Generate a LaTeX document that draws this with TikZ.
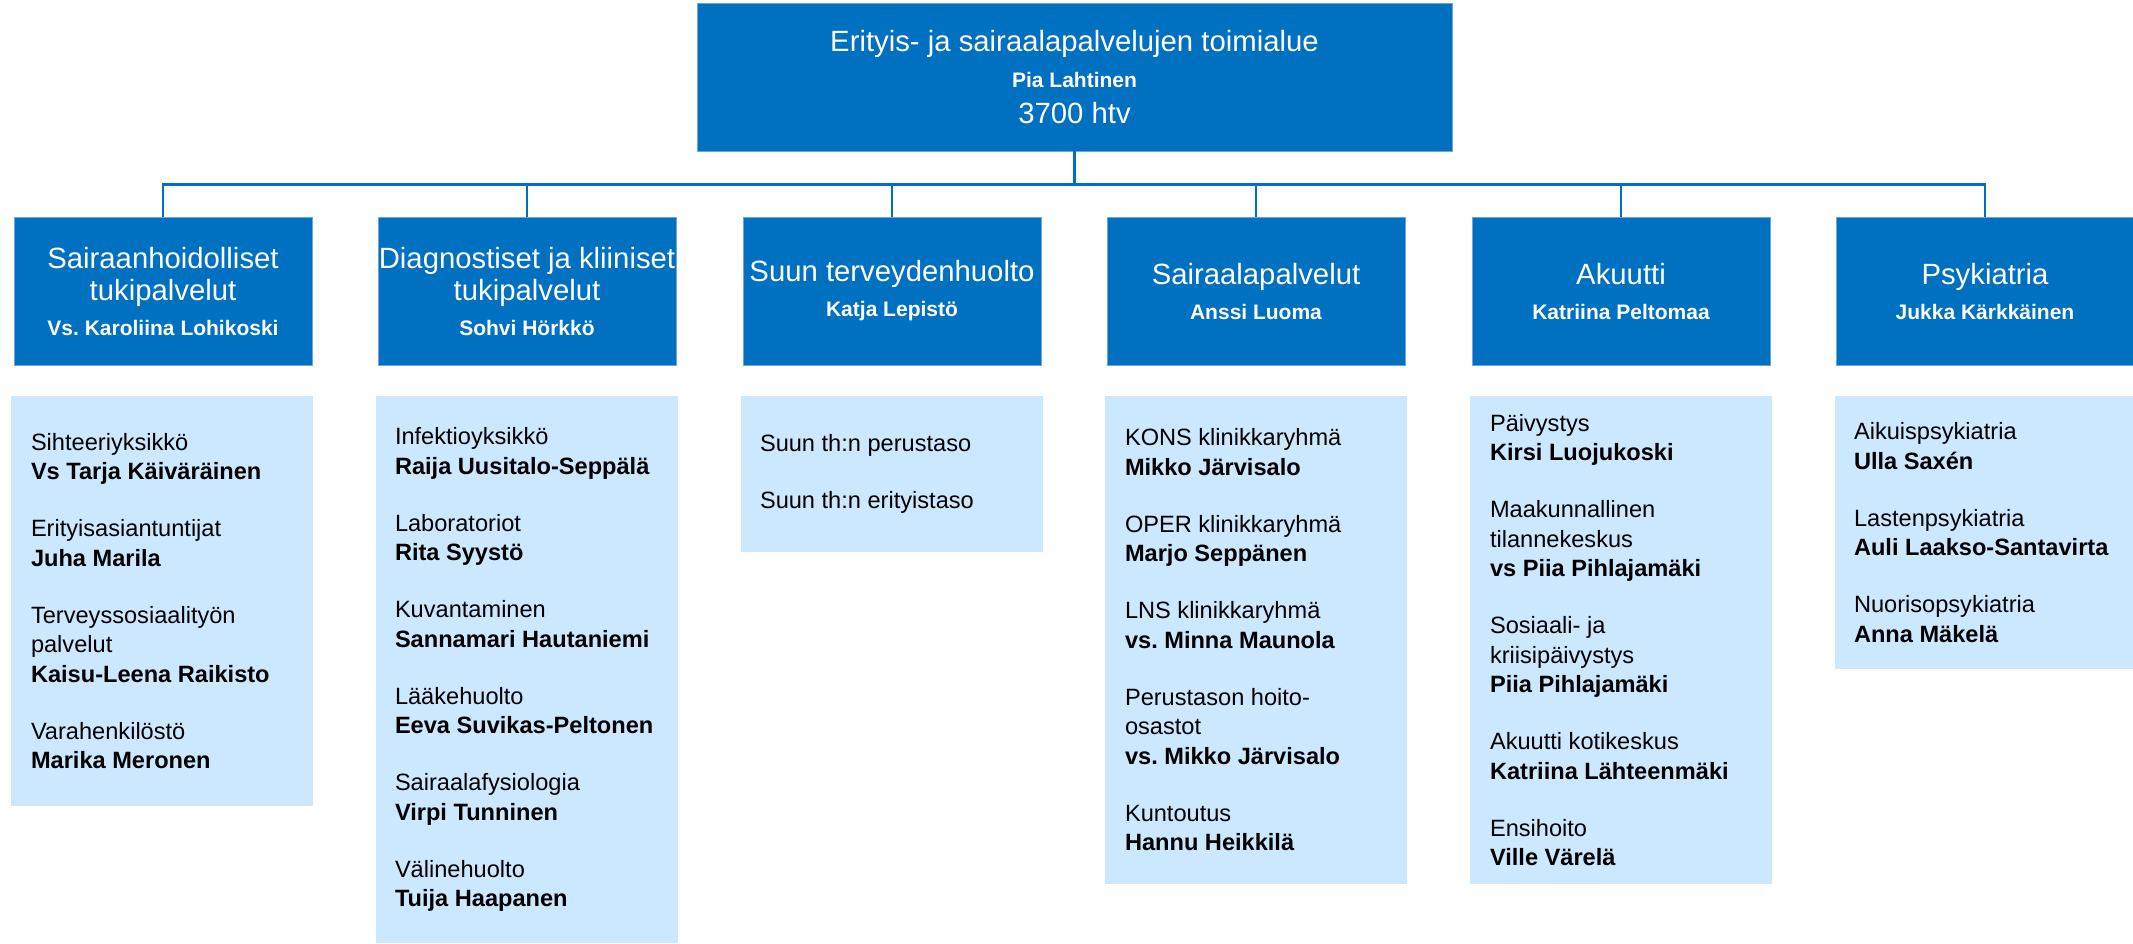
\documentclass[tikz,border=0pt]{standalone}
\usepackage{fontspec}
\setmainfont{Liberation Sans}
\frenchspacing
\definecolor{clb}{RGB}{0,112,192}
\definecolor{cll}{RGB}{204,232,255}
\definecolor{clr}{RGB}{110,165,220}
\tikzset{
    hd/.style={fill=clb, draw=clr, line width=.8pt, text=white, align=center, inner sep=0pt},
    srv/.style={hd, minimum width=298, minimum height=148, font=\fontsize{29.3}{32}\selectfont},
    unit/.style={fill=cll, inner sep=0pt, minimum width=302},
    lst/.style={align=left, inner sep=0pt, anchor=west, font=\fontsize{23.6}{29.5}\selectfont},
    lnk/.style={draw=clb, line width=2.5pt}
}
\newcommand*{\nm}[1]{{\bfseries\fontsize{21}{21}\selectfont #1}}
\newcommand*{\gp}{\\[27.5pt]}

\begin{document}
\begin{tikzpicture}[x=1pt, y=-1pt]
    \useasboundingbox(0, 0) rectangle (2133, 943);
    \node[hd, minimum width=755, minimum height=148, font=\fontsize{29.3}{36}\selectfont](top) at(1074.5, 77){Erityis- ja sairaalapalvelujen toimialue\\\nm{Pia Lahtinen}\\3700 htv};
    \node[srv](s1) at(163, 291){Sairaanhoidolliset\\tukipalvelut\\[3pt]\nm{Vs. Karoliina Lohikoski}};
    \node[srv](s2) at(527, 291){Diagnostiset ja kliiniset\\tukipalvelut\\[3pt]\nm{Sohvi Hörkkö}};
    \node[srv](s3) at(892, 291){Suun terveydenhuolto\\[3pt]\nm{Katja Lepistö}};
    \node[srv](s4) at(1256, 291){Sairaalapalvelut\\[3pt]\nm{Anssi Luoma}};
    \node[srv](s5) at(1621, 291){Akuutti\\[3pt]\nm{Katriina Peltomaa}};
    \node[srv](s6) at(1985, 291){Psykiatria\\[3pt]\nm{Jukka Kärkkäinen}};
    \coordinate(bus) at([yshift=-33pt]top.south);
    \draw[lnk](top)--(bus);
    \foreach \s in {s1, s2, s3, s4, s5, s6}
        \draw[lnk](bus)-|(\s);
    \node[unit, minimum height=410](u1) at(162, 601){};
    \node[unit, minimum height=547](u2) at(527, 669.5){};
    \node[unit, minimum height=156](u3) at(892, 474){};
    \node[unit, minimum height=488](u4) at(1256, 640){};
    \node[unit, minimum height=488](u5) at(1621, 640){};
    \node[unit, minimum height=273](u6) at(1986, 532.5){};
    \node[lst](t1) at([xshift=20pt]u1.west){Sihteeriyksikkö\\\textbf{Vs Tarja Käiväräinen}\gp Erityisasiantuntijat\\\textbf{Juha Marila}\gp Terveyssosiaalityön\\palvelut\\\textbf{Kaisu-Leena Raikisto}\gp Varahenkilöstö\\\textbf{Marika Meronen}};
    \node[lst](t2) at([xshift=19pt]u2.west){Infektioyksikkö\\\textbf{Raija Uusitalo-Seppälä}\gp Laboratoriot\\\textbf{Rita Syystö}\gp Kuvantaminen\\\textbf{Sannamari Hautaniemi}\gp Lääkehuolto\\\textbf{Eeva Suvikas-Peltonen}\gp Sairaalafysiologia\\\textbf{Virpi Tunninen}\gp Välinehuolto\\\textbf{Tuija Haapanen}};
    \node[lst](t3) at([xshift=19pt]u3.west){Suun th:n perustaso\gp Suun th:n erityistaso};
    \node[lst](t4) at([xshift=20pt]u4.west){KONS klinikkaryhmä\\\textbf{Mikko Järvisalo}\gp OPER klinikkaryhmä\\\textbf{Marjo Seppänen}\gp LNS klinikkaryhmä\\\textbf{vs. Minna Maunola}\gp Perustason hoito-\\osastot\\\textbf{vs. Mikko Järvisalo}\gp Kuntoutus\\\textbf{Hannu Heikkilä}};
    \node[lst](t5) at([xshift=20pt]u5.west){Päivystys\\\textbf{Kirsi Luojukoski}\gp Maakunnallinen\\tilannekeskus\\\textbf{vs Piia Pihlajamäki}\gp Sosiaali- ja\\kriisipäivystys\\\textbf{Piia Pihlajamäki}\gp Akuutti kotikeskus\\\textbf{Katriina Lähteenmäki}\gp Ensihoito\\\textbf{Ville Värelä}};
    \node[lst](t6) at([xshift=19pt]u6.west){Aikuispsykiatria\\\textbf{Ulla Saxén}\gp Lastenpsykiatria\\\textbf{Auli Laakso-Santavirta}\gp Nuorisopsykiatria\\\textbf{Anna Mäkelä}};
\end{tikzpicture}
\end{document}
